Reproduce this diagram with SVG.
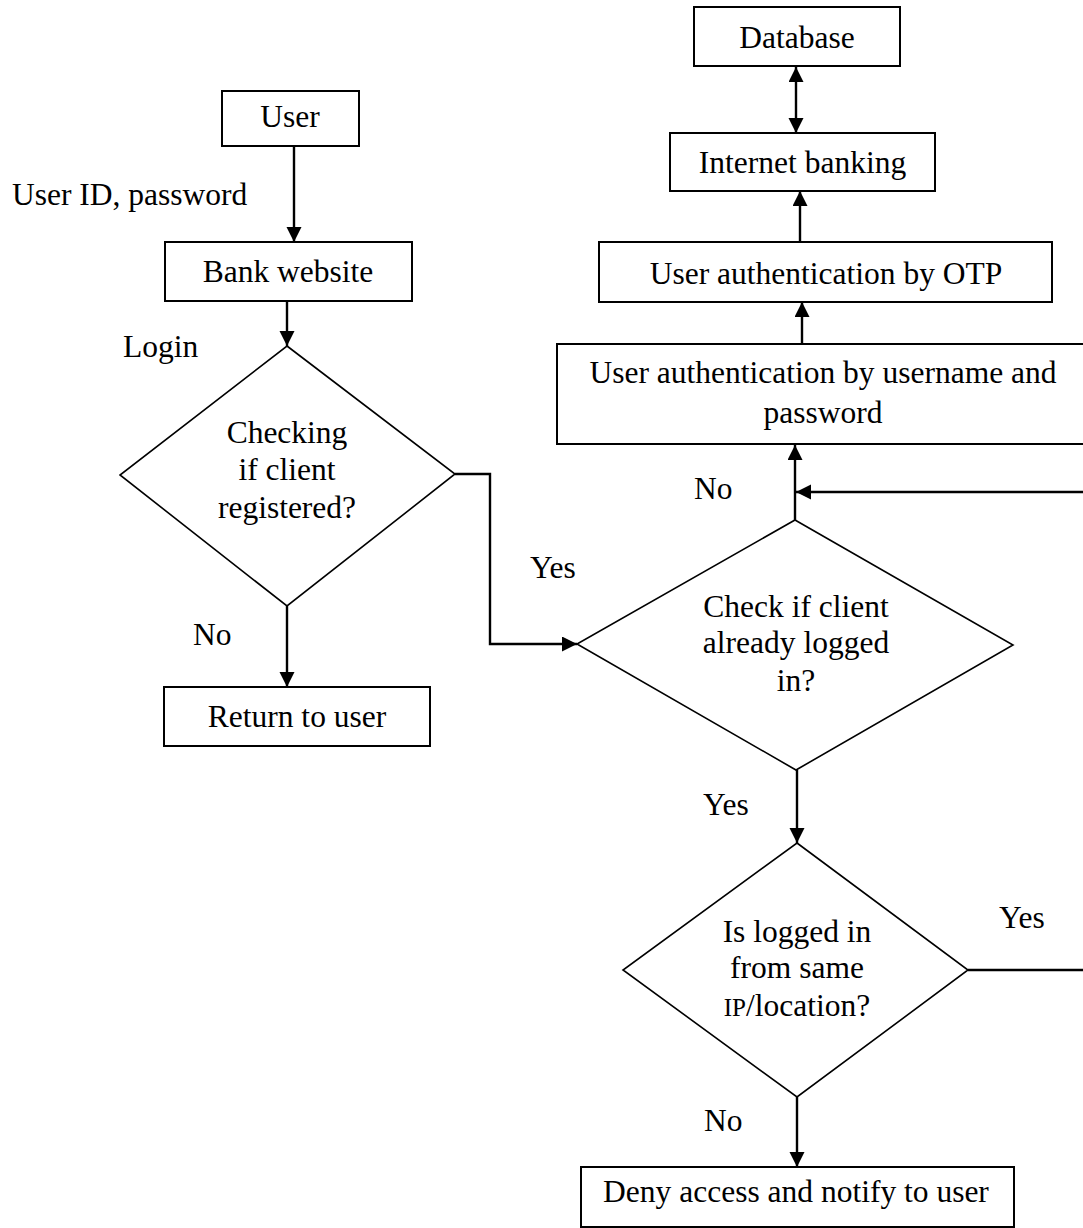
<svg xmlns="http://www.w3.org/2000/svg" width="1083" height="1228" viewBox="0 0 1083 1228">
  <style>
    .box { fill: #ffffff; stroke: #000000; stroke-width: 2; }
    .dia { fill: #ffffff; stroke: #000000; stroke-width: 1.6; }
    .t { font-family: "Liberation Serif", "Times New Roman", serif; font-size: 31.5px; fill: #000000; }
    .c { text-anchor: middle; }
    .sc { font-size: 25px; }
    .edge { fill: none; stroke: #000000; stroke-width: 2.4; }
    .arr { marker-end: url(#head); }
  </style>
  <defs>
    <marker id="head" markerUnits="userSpaceOnUse" markerWidth="17" markerHeight="17" refX="15" refY="7.5" orient="auto-start-reverse">
      <path d="M0,0 L15,7.5 L0,15 z" fill="#000000"/>
    </marker>
  </defs>
  <rect width="1083" height="1228" fill="#ffffff"/>

  <!-- connectors -->
  <g id="connectors">
    <line class="edge arr" x1="294" y1="146" x2="294" y2="242"/>
    <line class="edge arr" x1="287" y1="301" x2="287" y2="346"/>
    <line class="edge arr" x1="287" y1="606" x2="287" y2="687"/>
    <polyline class="edge arr" points="455,474 490,474 490,644 577,644"/>
    <line class="edge arr" x1="795" y1="520" x2="795" y2="445"/>
    <line class="edge arr" x1="1083" y1="492" x2="796" y2="492"/>
    <line class="edge arr" x1="802" y1="344" x2="802" y2="302"/>
    <line class="edge arr" x1="800" y1="242" x2="800" y2="191"/>
    <line class="edge arr" x1="796" y1="133" x2="796" y2="67" marker-start="url(#head)"/>
    <line class="edge arr" x1="797" y1="770" x2="797" y2="843"/>
    <line class="edge" x1="968" y1="970" x2="1083" y2="970"/>
    <line class="edge arr" x1="797" y1="1097" x2="797" y2="1167"/>
  </g>

  <!-- connector labels -->
  <g id="labels">
    <text class="t" x="12" y="205">User ID, password</text>
    <text class="t" x="123" y="357">Login</text>
    <text class="t" x="193" y="645">No</text>
    <text class="t" x="530" y="578">Yes</text>
    <text class="t" x="694" y="499">No</text>
    <text class="t" x="703" y="815">Yes</text>
    <text class="t" x="999" y="928">Yes</text>
    <text class="t" x="704" y="1131">No</text>
  </g>

  <g id="user">
    <rect class="box" x="222" y="91" width="137" height="55"/>
    <text class="t c" x="290" y="127">User</text>
  </g>

  <g id="bank-website">
    <rect class="box" x="165" y="242" width="247" height="59"/>
    <text class="t c" x="288" y="282">Bank website</text>
  </g>

  <g id="check-registered">
    <polygon class="dia" points="287,346 455,474 287,606 120,475"/>
    <text class="t c" x="287" y="443">Checking</text>
    <text class="t c" x="287" y="480">if client</text>
    <text class="t c" x="287" y="518">registered?</text>
  </g>

  <g id="return-to-user">
    <rect class="box" x="164" y="687" width="266" height="59"/>
    <text class="t c" x="297" y="727">Return to user</text>
  </g>

  <g id="database">
    <rect class="box" x="694" y="7" width="206" height="59"/>
    <text class="t c" x="797" y="48">Database</text>
  </g>

  <g id="internet-banking">
    <rect class="box" x="670" y="133" width="265" height="58"/>
    <text class="t c" x="802.5" y="173">Internet banking</text>
  </g>

  <g id="otp-auth">
    <rect class="box" x="599" y="242" width="453" height="60"/>
    <text class="t c" x="826" y="284">User authentication by OTP</text>
  </g>

  <g id="password-auth">
    <rect class="box" x="557" y="344" width="533" height="100"/>
    <text class="t c" x="823" y="383">User authentication by username and</text>
    <text class="t c" x="823" y="423">password</text>
  </g>

  <g id="check-logged-in">
    <polygon class="dia" points="795,520 1013,645 796,770 577,644"/>
    <text class="t c" x="796" y="617">Check if client</text>
    <text class="t c" x="796" y="653">already logged</text>
    <text class="t c" x="796" y="691">in?</text>
  </g>

  <g id="check-location">
    <polygon class="dia" points="797,843 968,970 797,1097 623,970"/>
    <text class="t c" x="797" y="942">Is logged in</text>
    <text class="t c" x="797" y="978">from same</text>
    <text class="t c" x="797" y="1016"><tspan class="sc">IP</tspan>/location?</text>
  </g>

  <g id="deny-access">
    <rect class="box" x="581" y="1167" width="433" height="60"/>
    <text class="t c" x="796" y="1202">Deny access and notify to user</text>
  </g>
</svg>
